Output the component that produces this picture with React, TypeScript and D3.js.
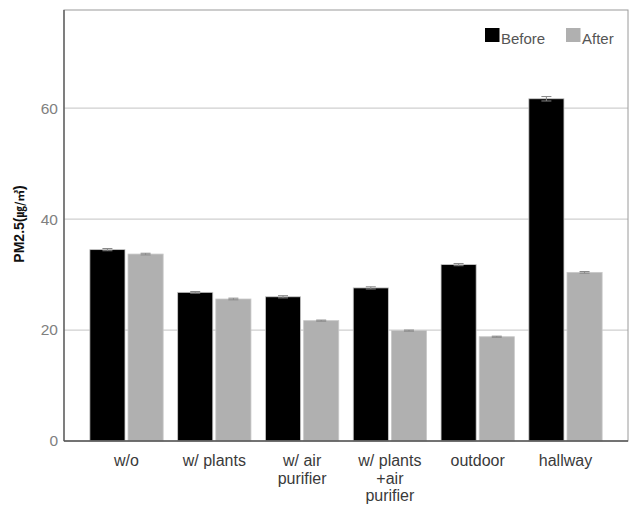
import React from "react";
import * as d3 from "d3";

const categories = ["w/o", "w/ plants", "w/ air\npurifier", "w/ plants\n+air\npurifier", "outdoor", "hallway"];
const series = ["Before", "After"];
const beforeValues = [34.5, 26.8, 26.0, 27.6, 31.8, 61.7];
const afterValues = [33.7, 25.6, 21.7, 19.9, 18.8, 30.4];
const beforeErrors = [0.2, 0.15, 0.2, 0.2, 0.2, 0.4];
const afterErrors = [0.15, 0.15, 0.1, 0.1, 0.1, 0.15];
const yTicks = [0, 20, 40, 60];
const colors = ["#000000", "#b0b0b0"];

export default function App() {
  const W = 629, H = 505;
  const left = 64, right = 628, top = 10, bottom = 441;
  const y = d3.scaleLinear().domain([0, 77.7]).range([bottom, top]);
  const x = d3.scaleBand<string>().domain(categories).range([left, right]).paddingInner(0).paddingOuter(0.212);
  const inner = d3.scaleBand<string>().domain(series).range([0, x.bandwidth()]).paddingInner(0.08).paddingOuter(0.19);
  const data = [beforeValues, afterValues];
  const errs = [beforeErrors, afterErrors];
  const font = "'Liberation Sans', Arial, sans-serif";
  return (
    <svg width={W} height={H} style={{ position: "absolute", left: 0, top: 0, background: "#fff" }} fontFamily={font}>
      <rect x={0} y={0} width={W} height={H} fill="#fff" />
      {yTicks.filter(t => t > 0).map(t => (
        <line key={t} x1={left} x2={right} y1={y(t)} y2={y(t)} stroke="#cfcfcf" strokeWidth={1.2} />
      ))}
      {categories.map((c, i) =>
        series.map((s, j) => {
          const v = data[j][i];
          const bx = (x(c) as number) + (inner(s) as number);
          const bw = inner.bandwidth();
          const e = errs[j][i];
          const cx = bx + bw / 2;
          return (
            <g key={c + s}>
              <rect x={bx} y={y(v)} width={bw} height={bottom - y(v)} fill={colors[j]} stroke="#c8c8c8" strokeWidth={0.8} />
              <line x1={cx} x2={cx} y1={y(v + e)} y2={y(v - e)} stroke="#888" strokeWidth={1} />
              <line x1={cx - 5} x2={cx + 5} y1={y(v + e)} y2={y(v + e)} stroke="#888" strokeWidth={1} />
              <line x1={cx - 5} x2={cx + 5} y1={y(v - e)} y2={y(v - e)} stroke="#888" strokeWidth={1} />
            </g>
          );
        })
      )}
      <rect x={left} y={top} width={right - left} height={bottom - top} fill="none" stroke="#9a9a9a" strokeWidth={1} />
      <line x1={left} x2={left} y1={top} y2={bottom} stroke="#555" strokeWidth={1.3} />
      <line x1={left} x2={right} y1={bottom} y2={bottom} stroke="#555" strokeWidth={1.3} />
      {yTicks.map(t => (
        <text key={t} x={58} y={y(t)} dy="0.35em" textAnchor="end" fontSize={15.5} fill="#808080">{t}</text>
      ))}
      {categories.map(c => {
        const lines = c.split("\n");
        const cx = (x(c) as number) + x.bandwidth() / 2;
        return (
          <text key={c} x={cx} y={466} textAnchor="middle" fontSize={16} fill="#3a3a3a">
            {lines.map((l, k) => (
              <tspan key={k} x={cx} dy={k === 0 ? 0 : 17.5}>{l}</tspan>
            ))}
          </text>
        );
      })}
      <text transform={`translate(24,224) rotate(-90)`} textAnchor="middle" fontSize={14} fontWeight="bold" fill="#111">
        PM2.5(<tspan fontFamily="'Noto Sans CJK KR', sans-serif" fontSize={11.5}>㎍/㎥</tspan>)
      </text>
      {series.map((s, j) => {
        const lx = j === 0 ? 485 : 566;
        return (
          <g key={s}>
            <rect x={lx} y={28} width={14.5} height={14} fill={colors[j]} />
            <text x={lx + 16} y={44} fontSize={15} fill="#555">{s}</text>
          </g>
        );
      })}
    </svg>
  );
}
